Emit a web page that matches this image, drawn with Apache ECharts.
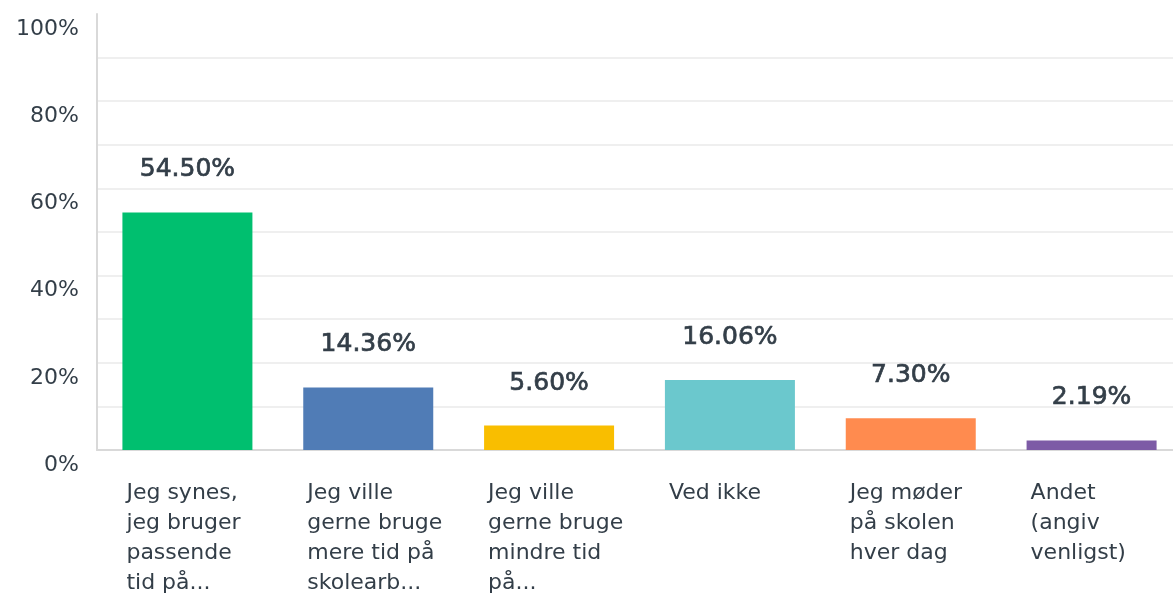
<!DOCTYPE html>
<html>
<head>
<meta charset="utf-8">
<script src="https://cdn.jsdelivr.net/npm/echarts@6/dist/echarts.min.js"></script>
<style>
  html, body { margin: 0; padding: 0; background: #fff; overflow: hidden; }
  #chart { width: 1173px; height: 594px; }
</style>
</head>
<body>
<div id="chart"></div>
<script>
// Survey answers (Danish), wrapped as in the original
const categories = [
    "Jeg synes,\njeg bruger\npassende\ntid på...",
    "Jeg ville\ngerne bruge\nmere tid på\nskolearb...",
    "Jeg ville\ngerne bruge\nmindre tid\npå...",
    "Ved ikke",
    "Jeg møder\npå skolen\nhver dag",
    "Andet\n(angiv\nvenligst)"
];
const percents = [54.50, 14.36, 5.60, 16.06, 7.30, 2.19];
const barColors = ["#00BF6F", "#507CB6", "#F9BE00", "#6BC8CD", "#FF8B4F", "#7D5BA6"];

const textColor = "#333E48";
const fontFamily = "'DejaVu Sans', sans-serif";

const chart = echarts.init(document.getElementById('chart'));

const option = {
    backgroundColor: '#fff',
    animation: false,
    grid: {
        left: 97,
        top: 14,
        width: 1085,
        bottom: 144,
        outerBoundsMode: 'none'
    },
    xAxis: {
        type: 'category',
        data: categories,
        axisLine: {
            lineStyle: { color: '#D9D9D9', width: 2 }
        },
        axisTick: { show: false },
        axisLabel: {
            interval: 0,
            margin: 28,
            formatter: (v) => v.split('\n').map(s => '{a|' + s + '}').join('\n'),
            rich: {
                a: {
                    width: 122,
                    align: 'left',
                    fontSize: 22,
                    lineHeight: 30,
                    color: textColor,
                    fontFamily: fontFamily
                }
            }
        }
    },
    yAxis: {
        type: 'value',
        min: 0,
        max: 100,
        interval: 10,
        axisLine: {
            show: true,
            lineStyle: { color: '#D9D9D9', width: 2 }
        },
        axisTick: { show: false },
        splitLine: {
            show: true,
            showMinLine: false,
            showMaxLine: false,
            lineStyle: { color: '#EFEFEF', width: 2 }
        },
        axisLabel: {
            margin: 18,
            color: textColor,
            fontSize: 22,
            fontFamily: fontFamily,
            verticalAlign: 'top',
            padding: [4, 0, 0, 0],
            formatter: (v) => (v % 20 === 0 ? v + '%' : '')
        }
    },
    series: [
        {
            type: 'bar',
            barWidth: 130,
            data: percents.map((v, i) => ({
                value: v,
                itemStyle: { color: barColors[i] }
            })),
            label: {
                show: true,
                position: 'top',
                distance: 30,
                color: textColor,
                fontSize: 25,
                fontFamily: fontFamily,
                textBorderColor: textColor,
                textBorderWidth: 0.7,
                formatter: (p) => p.value.toFixed(2) + '%'
            }
        }
    ]
};

chart.setOption(option);
</script>
</body>
</html>
